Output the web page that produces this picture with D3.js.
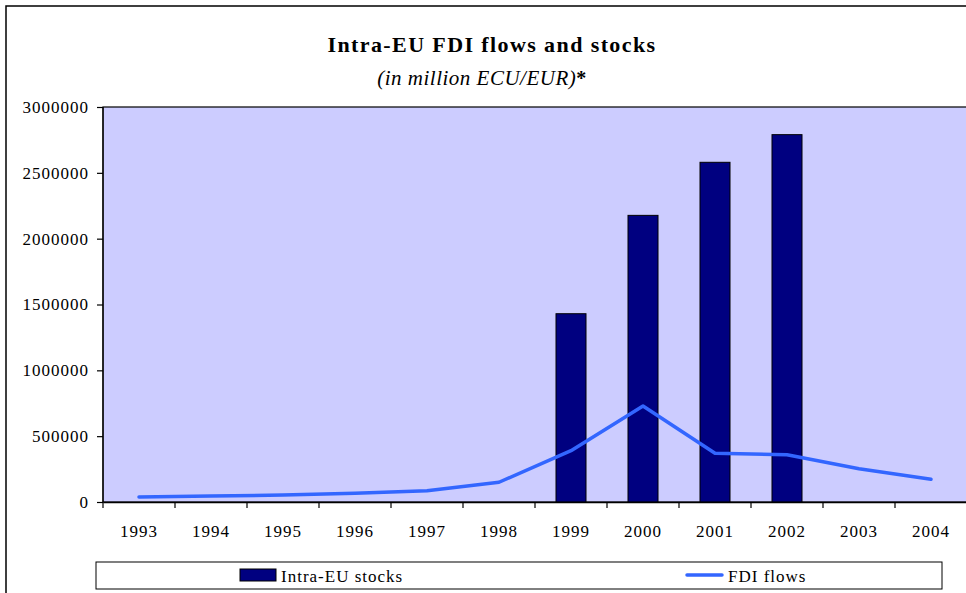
<!DOCTYPE html>
<html>
<head>
<meta charset="utf-8">
<script src="https://cdn.jsdelivr.net/npm/d3@7"></script>
<style>
  body { margin: 0; background: #fff; }
  svg { display: block; }
  svg text { font-family: "Liberation Serif", "Times New Roman", serif; }
</style>
</head>
<body>
<svg id="chart" width="966" height="593"></svg>
<script>
// values
const years = ["1993","1994","1995","1996","1997","1998","1999","2000","2001","2002","2003","2004"];
const stocks = [null, null, null, null, null, null, 1430000, 2177000, 2580000, 2790000, null, null];
const flows = [38000, 45000, 53000, 66000, 86000, 150000, 390000, 729000, 370000, 359000, 253000, 172000];
const yTicks = [0, 500000, 1000000, 1500000, 2000000, 2500000, 3000000];

const width = 966, height = 593;
const margin = {top: 107, right: -1, bottom: 91, left: 103};
const svg = d3.select("#chart");

// outer frame
svg.append("rect")
  .attr("x", 6).attr("y", 6)
  .attr("width", width + 10).attr("height", height + 10)
  .attr("fill", "#fff").attr("stroke", "#000").attr("stroke-width", 1.5);

const x = d3.scaleBand()
  .domain(years)
  .range([margin.left, width - margin.right])
  .paddingInner(0).paddingOuter(0);

const y = d3.scaleLinear()
  .domain([0, 3000000])
  .range([height - margin.bottom, margin.top]);

// plot area
svg.append("rect")
  .attr("x", margin.left).attr("y", margin.top)
  .attr("width", x.range()[1] - margin.left)
  .attr("height", y(0) - margin.top)
  .attr("fill", "#ccccff").attr("stroke", "#000").attr("stroke-width", 1.2);

// title
svg.append("text")
  .attr("x", 492).attr("y", 52)
  .attr("text-anchor", "middle")
  .attr("font-size", 22).attr("font-weight", "bold")
  .attr("letter-spacing", 1.4)
  .text("Intra-EU FDI flows and stocks");

const sub = svg.append("text")
  .attr("x", 482).attr("y", 85)
  .attr("text-anchor", "middle")
  .attr("font-size", 21)
  .attr("letter-spacing", 0.5);
sub.append("tspan").attr("font-style", "italic").text("(in million ECU/EUR)");
sub.append("tspan").attr("font-weight", "bold").attr("font-size", 20).text("*");

// bars
const barW = 30;
svg.append("g")
  .selectAll("rect")
  .data(years.map((yr, i) => ({yr, v: stocks[i]})).filter(d => d.v != null))
  .join("rect")
  .attr("x", d => x(d.yr) + x.bandwidth() / 2 - barW / 2)
  .attr("y", d => y(d.v))
  .attr("width", barW)
  .attr("height", d => y(0) - y(d.v))
  .attr("fill", "#000080")
  .attr("stroke", "#000").attr("stroke-width", 1);

// flows line
const line = d3.line()
  .x((d, i) => x(years[i]) + x.bandwidth() / 2)
  .y(d => y(d));

svg.append("path")
  .datum(flows)
  .attr("d", line)
  .attr("fill", "none")
  .attr("stroke", "#3366ff")
  .attr("stroke-width", 3.5)
  .attr("stroke-linejoin", "round")
  .attr("stroke-linecap", "round");

// y axis
const yAxis = svg.append("g")
  .attr("transform", `translate(${margin.left},0)`)
  .call(d3.axisLeft(y).tickValues(yTicks).tickFormat(d3.format("d")).tickSize(6).tickPadding(8));
yAxis.attr("font-family", null).attr("font-size", null);
yAxis.selectAll("text").attr("font-size", 17).attr("letter-spacing", 1).attr("fill", "#000");
yAxis.selectAll("line, path").attr("stroke", "#000").attr("stroke-width", 1.2);
yAxis.select(".domain").attr("d", `M0,${margin.top}V${y(0)}`);

// x axis
const xAxis = svg.append("g")
  .attr("transform", `translate(0,${y(0)})`)
  .call(d3.axisBottom(x).tickSize(0).tickPadding(23));
xAxis.attr("font-family", null).attr("font-size", null);
xAxis.selectAll("text").attr("font-size", 17).attr("letter-spacing", 1).attr("fill", "#000");
xAxis.select(".domain").attr("stroke", "#000").attr("stroke-width", 1.5);
xAxis.selectAll(".tick line").remove();
svg.append("g")
  .selectAll("line")
  .data(years.concat(["end"]))
  .join("line")
  .attr("x1", (d, i) => margin.left + i * x.bandwidth())
  .attr("x2", (d, i) => margin.left + i * x.bandwidth())
  .attr("y1", y(0)).attr("y2", y(0) + 6)
  .attr("stroke", "#000").attr("stroke-width", 1.2);

// legend
const leg = svg.append("g");
leg.append("rect")
  .attr("x", 96).attr("y", 562).attr("width", 846).attr("height", 27)
  .attr("fill", "#fff").attr("stroke", "#000").attr("stroke-width", 1);
leg.append("rect")
  .attr("x", 240).attr("y", 569).attr("width", 36).attr("height", 12)
  .attr("fill", "#000080").attr("stroke", "#000");
leg.append("text")
  .attr("x", 281).attr("y", 582).attr("font-size", 17).attr("letter-spacing", 1)
  .text("Intra-EU stocks");
leg.append("line")
  .attr("x1", 687).attr("x2", 722).attr("y1", 575).attr("y2", 575)
  .attr("stroke", "#3366ff").attr("stroke-width", 3.5).attr("stroke-linecap", "round");
leg.append("text")
  .attr("x", 728).attr("y", 582).attr("font-size", 17).attr("letter-spacing", 1)
  .text("FDI flows");
</script>
</body>
</html>
